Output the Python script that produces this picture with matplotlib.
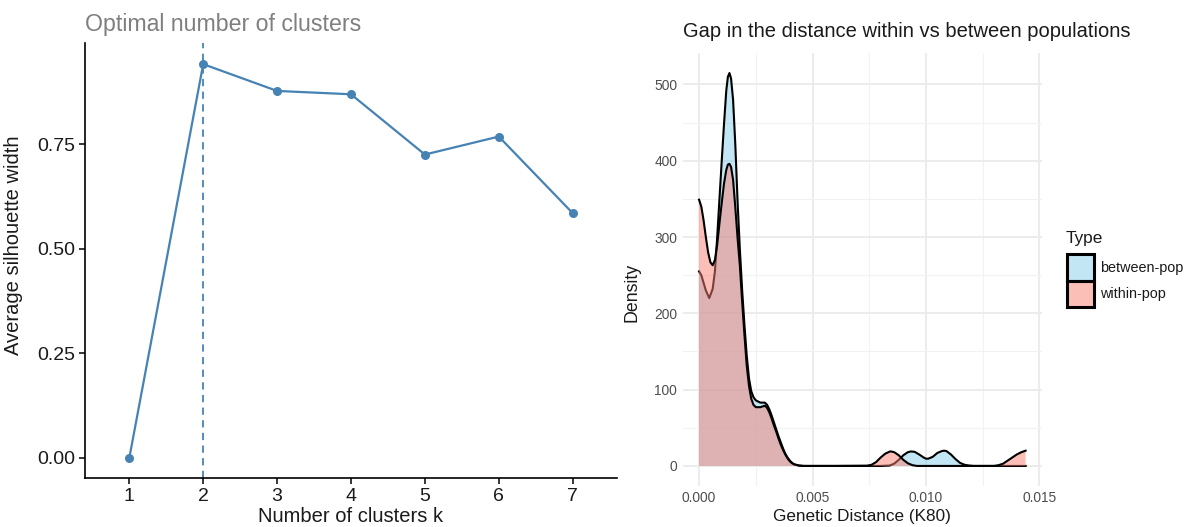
import matplotlib
matplotlib.use("Agg")
import matplotlib.pyplot as plt
from matplotlib.patches import Patch
from matplotlib.colors import to_rgba

plt.rcParams['font.family'] = ['Liberation Sans', 'DejaVu Sans']

# ---------------- data: left panel ----------------
k_values = [1, 2, 3, 4, 5, 6, 7]
silhouette = [0.0, 0.941, 0.877, 0.869, 0.725, 0.768, 0.585]
optimal_k = 2
left_yticks = [0.00, 0.25, 0.50, 0.75]
left_yticklabels = ["0.00", "0.25", "0.50", "0.75"]

# ---------------- data: right panel (density curves) ----------------
between_x = [0.0000, 0.0001, 0.0002, 0.0003, 0.00045, 0.0006, 0.0007, 0.0008, 0.0009, 0.0010,
             0.0011, 0.0012, 0.00127, 0.00134, 0.00141, 0.0015, 0.0016, 0.0017, 0.0018, 0.0019,
             0.0020, 0.0021, 0.0022, 0.0023, 0.0024, 0.0025, 0.0027, 0.0029, 0.0030, 0.0031,
             0.0032, 0.0033, 0.0034, 0.0035, 0.0036, 0.0037, 0.0038, 0.0039, 0.0040, 0.0041,
             0.0042, 0.0044, 0.0046, 0.0060, 0.0080, 0.0084, 0.0086, 0.0088, 0.0090, 0.0092,
             0.00934, 0.0095, 0.0097, 0.0099, 0.0100, 0.0101, 0.0103, 0.0105, 0.0107, 0.0108,
             0.0109, 0.0111, 0.0113, 0.0115, 0.0117, 0.0119, 0.0121, 0.0130, 0.01439]
between_y = [255, 250, 240, 230, 220, 232, 255, 300, 350, 400,
             448, 492, 510, 515, 508, 480, 420, 345, 283, 230,
             185, 145, 115, 98, 90, 86, 83, 83, 80, 74,
             66, 57, 48, 39, 31, 23, 16, 11, 7, 4,
             2, 0.5, 0, 0, 0, 0.5, 3, 8, 14, 18,
             19, 18.5, 15, 11, 9.5, 9.5, 12, 17, 19.5, 20,
             19.5, 15, 9, 4, 1.5, 0.5, 0, 0, 0]

within_x = [0.0000, 0.0001, 0.0002, 0.0003, 0.0004, 0.0005, 0.0006, 0.0007, 0.0008, 0.0009,
            0.0010, 0.0011, 0.0012, 0.00127, 0.00134, 0.00141, 0.0015, 0.0016, 0.0017, 0.0018,
            0.0019, 0.0020, 0.0021, 0.0022, 0.0023, 0.0024, 0.0025, 0.0027, 0.0029, 0.0030,
            0.0031, 0.0032, 0.0033, 0.0034, 0.0035, 0.0036, 0.0037, 0.0038, 0.0039, 0.0040,
            0.0041, 0.0042, 0.0044, 0.0046, 0.0060, 0.0074, 0.0076, 0.0078, 0.0080, 0.0082,
            0.0084, 0.00846, 0.0086, 0.0088, 0.0090, 0.0092, 0.0094, 0.0096, 0.0110, 0.0130,
            0.0132, 0.0134, 0.0136, 0.0138, 0.0140, 0.0142, 0.01439]
within_y = [349, 340, 322, 300, 280, 267, 263, 270, 290, 318,
            345, 370, 388, 395, 396, 392, 375, 338, 298, 262,
            215, 172, 132, 105, 88, 80, 77, 77, 79, 76,
            70, 62, 53, 45, 36, 28, 21, 15, 10, 6,
            3.5, 2, 0.5, 0, 0, 0.3, 1.5, 5, 11, 16,
            18.8, 19, 18, 14, 8, 3.5, 1, 0, 0, 0,
            1, 3, 7, 11, 15, 18, 20]

right_xticks = [0.000, 0.005, 0.010, 0.015]
right_xticklabels = ["0.000", "0.005", "0.010", "0.015"]
right_yticks = [0, 100, 200, 300, 400, 500]
right_yticklabels = ["0", "100", "200", "300", "400", "500"]
type_labels = ["between-pop", "within-pop"]
type_colors = ["#87CEEB", "#FA8072"]

# ---------------- figure ----------------
fig = plt.figure(figsize=(11.9, 5.27), dpi=100)

# Left panel
axL = fig.add_axes([0.0714, 0.093, 0.4471, 0.825])
blue = "#4682B4"
axL.axvline(optimal_k, color=blue, linestyle=(0, (4, 3)), linewidth=1.3, zorder=1)
axL.plot(k_values, silhouette, color=blue, linewidth=1.6, marker='o', markersize=6.5,
         markeredgewidth=0, zorder=2)
axL.set_xlim(0.4, 7.6)
axL.set_ylim(-0.0478, 0.991)
axL.set_xticks(k_values)
axL.set_xticklabels([str(k) for k in k_values])
axL.set_yticks(left_yticks)
axL.set_yticklabels(left_yticklabels)
for s in ['top', 'right']:
    axL.spines[s].set_visible(False)
for s in ['left', 'bottom']:
    axL.spines[s].set_linewidth(1.2)
    axL.spines[s].set_color('black')
axL.tick_params(axis='both', labelsize=14, length=4, width=1.1, color='black',
                labelcolor='#1a1a1a', pad=3)
axL.set_xlabel("Number of clusters k", fontsize=14.5, labelpad=2, color='#1a1a1a')
axL.set_ylabel("Average silhouette width", fontsize=14.5, labelpad=6, color='#1a1a1a')
axL.yaxis.set_label_coords(-0.117, 0.535)
axL.set_title("Optimal number of clusters", loc='left', fontsize=16.7, color='#7f7f7f', pad=9)

# Right panel
axR = fig.add_axes([0.5737, 0.0786, 0.3019, 0.8201])
x_lo, x_hi = -0.00072, 0.01511
y_lo, y_hi = -25.75, 540.75
axR.set_xlim(x_lo, x_hi)
axR.set_ylim(y_lo, y_hi)
axR.set_facecolor('white')
for s in axR.spines.values():
    s.set_visible(False)
axR.set_xticks(right_xticks)
axR.set_xticklabels(right_xticklabels)
axR.set_yticks(right_yticks)
axR.set_yticklabels(right_yticklabels)
axR.set_xticks([0.0025, 0.0075, 0.0125], minor=True)
axR.set_yticks([50, 150, 250, 350, 450], minor=True)
axR.grid(which='major', color='#ebebeb', linewidth=1.3, zorder=0)
axR.grid(which='minor', color='#f2f2f2', linewidth=0.8, zorder=0)
axR.set_axisbelow(True)
axR.tick_params(which='both', length=0)
axR.tick_params(axis='both', labelsize=9.9, labelcolor='#4d4d4d', pad=4)

axR.fill_between(between_x, between_y, 0, facecolor=type_colors[0], alpha=0.5,
                 edgecolor='none', zorder=2)
axR.plot(between_x, between_y, color='black', linewidth=1.5, zorder=2.1)
axR.fill_between(within_x, within_y, 0, facecolor=type_colors[1], alpha=0.5,
                 edgecolor='none', zorder=3)
axR.plot(within_x, within_y, color='black', linewidth=1.5, zorder=3.1)

axR.set_xlabel("Genetic Distance (K80)", fontsize=12.3, color='#1a1a1a', labelpad=3)
axR.set_ylabel("Density", fontsize=12.8, color='#1a1a1a', labelpad=3)
axR.yaxis.set_label_coords(-0.118, 0.448)
axR.set_title("Gap in the distance within vs between populations", loc='left',
              fontsize=14.5, color='#1a1a1a', pad=12)

handles = [Patch(facecolor=to_rgba(c, 0.5), edgecolor='black', linewidth=2.2) for c in type_colors]
leg = fig.legend(handles, type_labels, loc='upper left',
                 bbox_to_anchor=(1057 / 1190, 1 - 244 / 527), frameon=False,
                 fontsize=10.4, handlelength=1.85, handleheight=2.45,
                 labelspacing=0.0, handletextpad=0.45, borderpad=0.2)
for t in leg.get_texts():
    t.set_color('#1a1a1a')
fig.text(1066 / 1190, 1 - 238 / 527, "Type", fontsize=12.4, color='#1a1a1a',
         ha='left', va='center')

fig.savefig("out.png", dpi=100)
